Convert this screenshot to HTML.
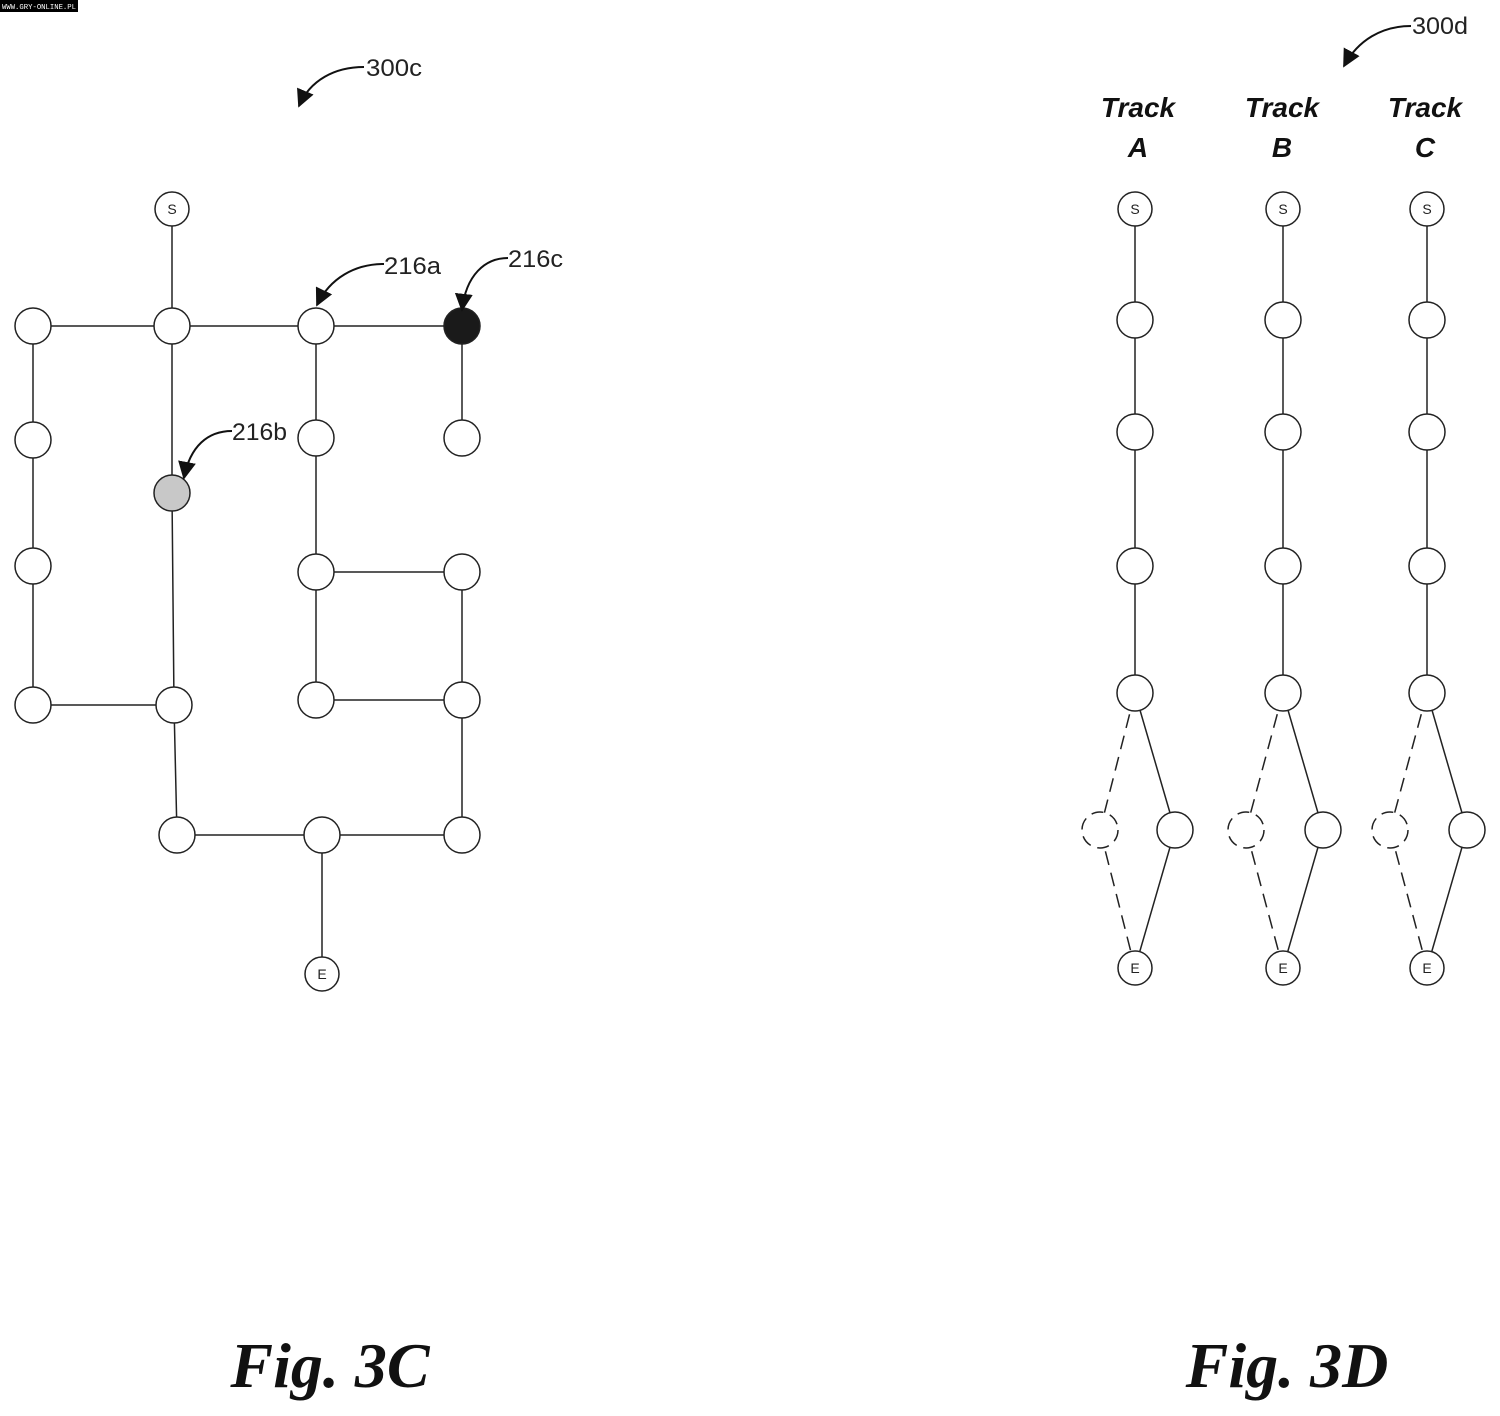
<!DOCTYPE html>
<html><head><meta charset="utf-8"><style>
html,body{margin:0;padding:0;background:#fff;}
svg{display:block}
.s{font-family:"Liberation Sans",sans-serif;}
.serif{font-family:"Liberation Serif",serif;}
.mono{font-family:"Liberation Mono",monospace;}
</style></head><body>
<svg width="1500" height="1416" viewBox="0 0 1500 1416" xmlns="http://www.w3.org/2000/svg">
<defs>
<marker id="ah2" viewBox="0 0 10 10" refX="9" refY="5" markerWidth="18" markerHeight="18" orient="auto" markerUnits="userSpaceOnUse"><path d="M0,0 L10,5 L0,10 z" fill="#111"/></marker>
</defs>
<rect x="0" y="0" width="78" height="12" fill="#000"/>
<text class="mono" x="2" y="9" font-size="7" fill="#fff" textLength="74" lengthAdjust="spacingAndGlyphs">WWW.GRY-ONLINE.PL</text>

<g fill="none" stroke="#222" stroke-width="1.5">
<line x1="172" y1="209" x2="172" y2="326"/>
<line x1="33" y1="326" x2="462" y2="326"/>
<line x1="33" y1="326" x2="33" y2="705"/>
<line x1="33" y1="705" x2="174" y2="705"/>
<polyline points="172,326 172,493 174,705 177,835"/>
<line x1="316" y1="326" x2="316" y2="700"/>
<line x1="462" y1="326" x2="462" y2="438"/>
<line x1="316" y1="572" x2="462" y2="572"/>
<line x1="462" y1="572" x2="462" y2="835"/>
<line x1="316" y1="700" x2="462" y2="700"/>
<line x1="177" y1="835" x2="462" y2="835"/>
<line x1="322" y1="835" x2="322" y2="974"/>
<line x1="1135" y1="209" x2="1135" y2="693"/>
<line x1="1283" y1="209" x2="1283" y2="693"/>
<line x1="1427" y1="209" x2="1427" y2="693"/>
<line x1="1135" y1="693" x2="1175" y2="830"/><line x1="1175" y1="830" x2="1135" y2="968"/>
<line x1="1283" y1="693" x2="1323" y2="830"/><line x1="1323" y1="830" x2="1283" y2="968"/>
<line x1="1427" y1="693" x2="1467" y2="830"/><line x1="1467" y1="830" x2="1427" y2="968"/>
<g stroke-dasharray="14,8">
<line x1="1135" y1="693" x2="1100" y2="830"/><line x1="1100" y1="830" x2="1135" y2="968"/>
<line x1="1283" y1="693" x2="1246" y2="830"/><line x1="1246" y1="830" x2="1283" y2="968"/>
<line x1="1427" y1="693" x2="1390" y2="830"/><line x1="1390" y1="830" x2="1427" y2="968"/>
</g>
</g>

<g stroke="#222" stroke-width="1.5" fill="#fff">
<circle cx="172" cy="209" r="17"/>
<circle cx="33" cy="326" r="18"/><circle cx="172" cy="326" r="18"/><circle cx="316" cy="326" r="18"/>
<circle cx="462" cy="326" r="18" fill="#1a1a1a"/>
<circle cx="33" cy="440" r="18"/><circle cx="316" cy="438" r="18"/><circle cx="462" cy="438" r="18"/>
<circle cx="172" cy="493" r="18" fill="#c8c8c8"/>
<circle cx="33" cy="566" r="18"/><circle cx="316" cy="572" r="18"/><circle cx="462" cy="572" r="18"/>
<circle cx="33" cy="705" r="18"/><circle cx="174" cy="705" r="18"/><circle cx="316" cy="700" r="18"/><circle cx="462" cy="700" r="18"/>
<circle cx="177" cy="835" r="18"/><circle cx="322" cy="835" r="18"/><circle cx="462" cy="835" r="18"/>
<circle cx="322" cy="974" r="17"/>
<circle cx="1135" cy="209" r="17"/><circle cx="1283" cy="209" r="17"/><circle cx="1427" cy="209" r="17"/>
<circle cx="1135" cy="320" r="18"/><circle cx="1283" cy="320" r="18"/><circle cx="1427" cy="320" r="18"/>
<circle cx="1135" cy="432" r="18"/><circle cx="1283" cy="432" r="18"/><circle cx="1427" cy="432" r="18"/>
<circle cx="1135" cy="566" r="18"/><circle cx="1283" cy="566" r="18"/><circle cx="1427" cy="566" r="18"/>
<circle cx="1135" cy="693" r="18"/><circle cx="1283" cy="693" r="18"/><circle cx="1427" cy="693" r="18"/>
<circle cx="1175" cy="830" r="18"/><circle cx="1323" cy="830" r="18"/><circle cx="1467" cy="830" r="18"/>
<g stroke-dasharray="12,7"><circle cx="1100" cy="830" r="18"/><circle cx="1246" cy="830" r="18"/><circle cx="1390" cy="830" r="18"/></g>
<circle cx="1135" cy="968" r="17"/><circle cx="1283" cy="968" r="17"/><circle cx="1427" cy="968" r="17"/>
</g>

<g class="s" font-size="14" text-anchor="middle" fill="#222">
<text class="s" x="172" y="214">S</text><text class="s" x="322" y="979">E</text>
<text class="s" x="1135" y="214">S</text><text class="s" x="1283" y="214">S</text><text class="s" x="1427" y="214">S</text>
<text class="s" x="1135" y="973">E</text><text class="s" x="1283" y="973">E</text><text class="s" x="1427" y="973">E</text>
</g>

<g fill="none" stroke="#111" stroke-width="2" marker-end="url(#ah2)">
<path d="M364,67 C335,67 310,80 299,106"/>
<path d="M1411,26 C1382,26 1358,40 1344,66"/>
<path d="M384,264 C355,264 330,278 317,305"/>
<path d="M508,258 C485,258 466,275 462,310"/>
<path d="M232,431 C208,431 190,446 184,478"/>
</g>
<g font-size="24" fill="#222">
<text class="s" x="366" y="76" textLength="56" lengthAdjust="spacingAndGlyphs">300c</text>
<text class="s" x="1412" y="34" textLength="56" lengthAdjust="spacingAndGlyphs">300d</text>
<text class="s" x="384" y="274" textLength="57" lengthAdjust="spacingAndGlyphs">216a</text>
<text class="s" x="508" y="267" textLength="55" lengthAdjust="spacingAndGlyphs">216c</text>
<text class="s" x="232" y="440" textLength="55" lengthAdjust="spacingAndGlyphs">216b</text>
</g>

<g font-size="28" font-weight="bold" font-style="italic" text-anchor="middle" fill="#111">
<text class="s" x="1138" y="117">Track</text><text class="s" x="1138" y="157">A</text>
<text class="s" x="1282" y="117">Track</text><text class="s" x="1282" y="157">B</text>
<text class="s" x="1425" y="117">Track</text><text class="s" x="1425" y="157">C</text>
</g>
<g font-size="64" font-weight="bold" font-style="italic" text-anchor="middle" fill="#111">
<text class="serif" x="330" y="1387">Fig. 3C</text>
<text class="serif" x="1287" y="1387">Fig. 3D</text>
</g>
</svg>
</body></html>
